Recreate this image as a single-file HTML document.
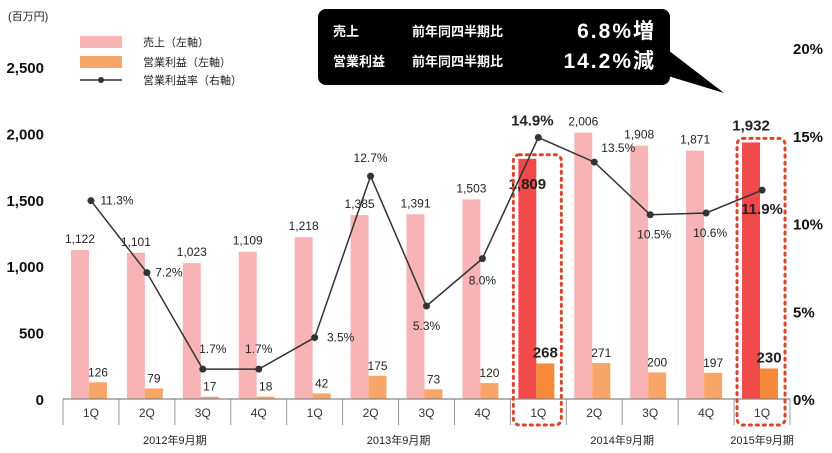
<!DOCTYPE html>
<html><head><meta charset="utf-8"><style>
html,body{margin:0;padding:0;background:#fff;}
svg{display:block;font-family:"Liberation Sans","Noto Sans CJK JP",sans-serif;}
</style></head><body>
<svg id="c" width="832" height="453" viewBox="0 0 832 453">
<text x="8" y="20" font-size="11" fill="#222">(百万円)</text>
<g>
<rect x="80" y="36" width="42" height="12" fill="#f8b4b4"/>
<text x="143" y="46" font-size="11" fill="#222">売上（左軸）</text>
<rect x="80" y="56" width="42" height="12" fill="#f8a56a"/>
<text x="143" y="66" font-size="11" fill="#222">営業利益（左軸）</text>
<line x1="80" y1="80" x2="122" y2="80" stroke="#333" stroke-width="1.5"/>
<circle cx="101" cy="80" r="3" fill="#333"/>
<text x="143" y="84" font-size="11" fill="#222">営業利益率（右軸）</text>
</g>
<g>
<rect x="318" y="9" width="352" height="76" rx="8" fill="#000"/>
<polygon points="668,50 668,76 724,93" fill="#000"/>
<text x="333" y="36" font-size="13" font-weight="bold" fill="#fff">売上</text>
<text x="412" y="36" font-size="13" font-weight="bold" fill="#fff">前年同四半期比</text>
<text x="656" y="38" font-size="21" font-weight="bold" fill="#fff" text-anchor="end" letter-spacing="2">6.8%増</text>
<text x="333" y="66" font-size="13" font-weight="bold" fill="#fff">営業利益</text>
<text x="412" y="66" font-size="13" font-weight="bold" fill="#fff">前年同四半期比</text>
<text x="656" y="68" font-size="21" font-weight="bold" fill="#fff" text-anchor="end" letter-spacing="2">14.2%減</text>
</g>
<g id="plot"></g>
</svg>
<script>
const categories=["1Q","2Q","3Q","4Q","1Q","2Q","3Q","4Q","1Q","2Q","3Q","4Q","1Q"];
const sales=[1122,1101,1023,1109,1218,1385,1391,1503,1809,2006,1908,1871,1932];
const profit=[126,79,17,18,42,175,73,120,268,271,200,197,230];
const rate=[11.3,7.2,1.7,1.7,3.5,12.7,5.3,8.0,14.9,13.5,10.5,10.6,11.9];
const highlight=[8,12];
const leftTicks=[0,500,1000,1500,2000,2500];
const rightTicks=[0,5,10,15,20];
const years=[{label:"2012年9月期",from:0,to:3},{label:"2013年9月期",from:4,to:7},{label:"2014年9月期",from:8,to:11},{label:"2015年9月期",from:12,to:12}];

const NS="http://www.w3.org/2000/svg";
const g=document.getElementById('plot');
const X0=63,X1=790,base=399;
const step=(X1-X0)/categories.length;
const cx=i=>X0+step*(i+0.5);
const yL=v=>base-v*(332/2500);
const yR=v=>base-v*17.55;
function mk(tag,at,txt){const e=document.createElementNS(NS,tag);for(const k in at)e.setAttribute(k,at[k]);if(txt!=null)e.textContent=txt;g.appendChild(e);return e;}

leftTicks.forEach(t=>{const e=mk('text',{x:44,y:yL(t)+6,'font-size':15,'font-weight':'bold','text-anchor':'end',fill:'#111'},t.toLocaleString('en-US'));

});
rightTicks.forEach(t=>{const e=mk('text',{x:793,y:yR(t)+6,'font-size':15,'font-weight':'bold',fill:'#111'},t+'%');

});

categories.forEach((c,i)=>{
 const hl=highlight.includes(i);
 const r1=mk('rect',{x:cx(i)-20,y:yL(sales[i]),width:18,height:base-yL(sales[i]),fill:hl?'#f24a4a':'#f8b4b4'});
 
 
 const r2=mk('rect',{x:cx(i)-2,y:yL(profit[i]),width:18,height:base-yL(profit[i]),fill:hl?'#f58a3a':'#f8a56a'});
 
 
 const t1=mk('text',{x:cx(i)-11,y:hl?yL(sales[i])+(i==8?30:-12):yL(sales[i])-7,'font-size':hl?15:12,'font-weight':hl?'bold':'normal','text-anchor':'middle',fill:'#222'},sales[i].toLocaleString('en-US'));
 
 
 const t2=mk('text',{x:cx(i)+7,y:yL(profit[i])-6,'font-size':hl?15:12,'font-weight':hl?'bold':'normal','text-anchor':'middle',fill:'#222'},profit[i]);
 
 
 const cl=mk('text',{x:cx(i),y:417,'font-size':12,'text-anchor':'middle',fill:'#333'},c);
 
 
 const sp=mk('line',{x1:X0+step*i,y1:base,x2:X0+step*i,y2:425,stroke:'#999','stroke-width':1});
 
 
});
const ax=mk('line',{x1:X0,y1:base,x2:X1,y2:base,stroke:'#888','stroke-width':1.2});


const se=mk('line',{x1:X1,y1:base,x2:X1,y2:425,stroke:'#999'});


years.forEach((y,i)=>{const e=mk('text',{x:(cx(y.from)+cx(y.to))/2,y:444,'font-size':11,'text-anchor':'middle',fill:'#222'},y.label);

});

highlight.forEach(i=>{const top=yL(sales[i])-4;
 const b=mk('rect',{x:cx(i)-25,y:top,width:48,height:425-top,rx:6,fill:'none',stroke:'#d9452b','stroke-width':3,'stroke-dasharray':'2 5','stroke-linecap':'round'});
 
 });

const line=mk('polyline',{points:rate.map((v,i)=>cx(i)+','+yR(v)).join(' '),fill:'none',stroke:'#333','stroke-width':1.5});


const off=[[26,4],[22,4],[10,-16],[0,-16],[26,4],[0,-14],[0,24],[0,26],[-6,-12],[24,-10],[4,24],[4,24],[0,24]];
rate.forEach((v,i)=>{
 const d=mk('circle',{cx:cx(i),cy:yR(v),r:3.5,fill:'#333'});
 
 
 const hl=highlight.includes(i);
 const t=mk('text',{x:cx(i)+off[i][0],y:yR(v)+off[i][1],'font-size':hl?15:12,'font-weight':hl?'bold':'normal','text-anchor':'middle',fill:'#222'},v.toFixed(1)+'%');
 
 
});
</script>
</body></html>
